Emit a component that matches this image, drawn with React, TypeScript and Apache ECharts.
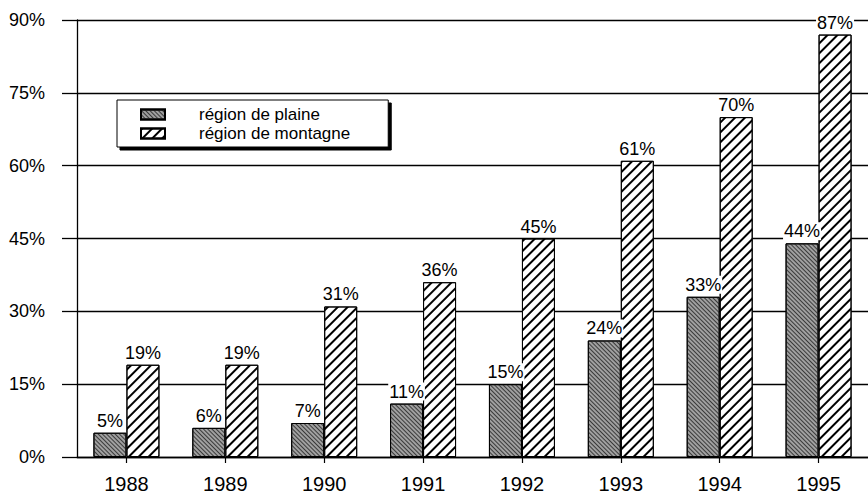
import React, { useEffect, useRef } from "react";
import * as echarts from "echarts";

const years = ["1988", "1989", "1990", "1991", "1992", "1993", "1994", "1995"];
const plaine = [5, 6, 7, 11, 15, 24, 33, 44];
const montagne = [19, 19, 31, 36, 45, 61, 70, 87];
const seriesNames = ["région de plaine", "région de montagne"];

const FONT = "'Liberation Sans', Arial, Helvetica, sans-serif";

export default function App() {
  const ref = useRef<HTMLDivElement>(null);
  useEffect(() => {
    if (!ref.current) return;
    const chart = echarts.init(ref.current, null, { renderer: "svg" });
    const labelCfg = {
      show: true,
      position: "top",
      distance: 3,
      formatter: "{c}%",
      color: "#000",
      fontSize: 18,
      fontFamily: FONT,
      backgroundColor: "#fff",
      padding: [0, 1, 0, 1],
    };
    chart.setOption({
      animation: false,
      backgroundColor: "#fff",
      textStyle: { fontFamily: FONT, color: "#000" },
      legend: {
        orient: "vertical",
        left: 117,
        top: 100,
        icon: "rect",
        itemWidth: 24,
        itemHeight: 10,
        itemGap: 2,
        padding: [6, 38, 5, 23],
        backgroundColor: "#fff",
        borderColor: "#000",
        borderWidth: 1,
        shadowColor: "#000",
        shadowBlur: 0,
        shadowOffsetX: 3,
        shadowOffsetY: 3,
        textStyle: {
          fontSize: 17,
          color: "#000",
          fontFamily: FONT,
          padding: [0, 0, 0, 29],
        },
        data: seriesNames,
      },
      grid: { left: 77, top: 20, width: 794, height: 437 },
      xAxis: {
        type: "category",
        data: years,
        axisLine: { show: true, lineStyle: { color: "#000", width: 1.3 } },
        axisTick: {
          show: true,
          alignWithLabel: true,
          length: 6,
          lineStyle: { color: "#000", width: 1.2 },
        },
        axisLabel: { color: "#000", fontSize: 20, fontFamily: FONT, margin: 17 },
        splitLine: { show: false },
      },
      yAxis: {
        type: "value",
        min: 0,
        max: 90,
        interval: 15,
        axisLine: { show: true, lineStyle: { color: "#000", width: 1.3 } },
        axisTick: { show: true, length: 15, lineStyle: { color: "#000", width: 1.3 } },
        axisLabel: {
          color: "#000",
          fontSize: 18,
          fontFamily: FONT,
          margin: 32,
          formatter: "{value}%",
        },
        splitLine: { show: true, lineStyle: { color: "#000", width: 1.3 } },
      },
      series: [
        {
          name: seriesNames[0],
          type: "bar",
          data: plaine,
          barWidth: 33,
          barGap: "0%",
          itemStyle: {
            color: "#a0a0a0",
            borderColor: "#000",
            borderWidth: 1,
            decal: {
              symbol: "rect",
              symbolSize: 1,
              color: "#3a3a3a",
              dashArrayX: [[1, 0]],
              dashArrayY: [1, 2],
              rotation: Math.PI / 4,
            },
          },
          label: labelCfg,
        },
        {
          name: seriesNames[1],
          type: "bar",
          data: montagne,
          barWidth: 33,
          barGap: "0%",
          itemStyle: {
            color: "#fff",
            borderColor: "#000",
            borderWidth: 1,
            decal: {
              symbol: "rect",
              symbolSize: 1,
              color: "#000",
              dashArrayX: [[1, 0]],
              dashArrayY: [1.3, 4.2],
              rotation: -Math.PI / 4,
            },
          },
          label: labelCfg,
        },
      ],
    });
    return () => chart.dispose();
  }, []);
  return <div ref={ref} style={{ width: 868, height: 495, position: "absolute", left: 0, top: 0 }} />;
}
